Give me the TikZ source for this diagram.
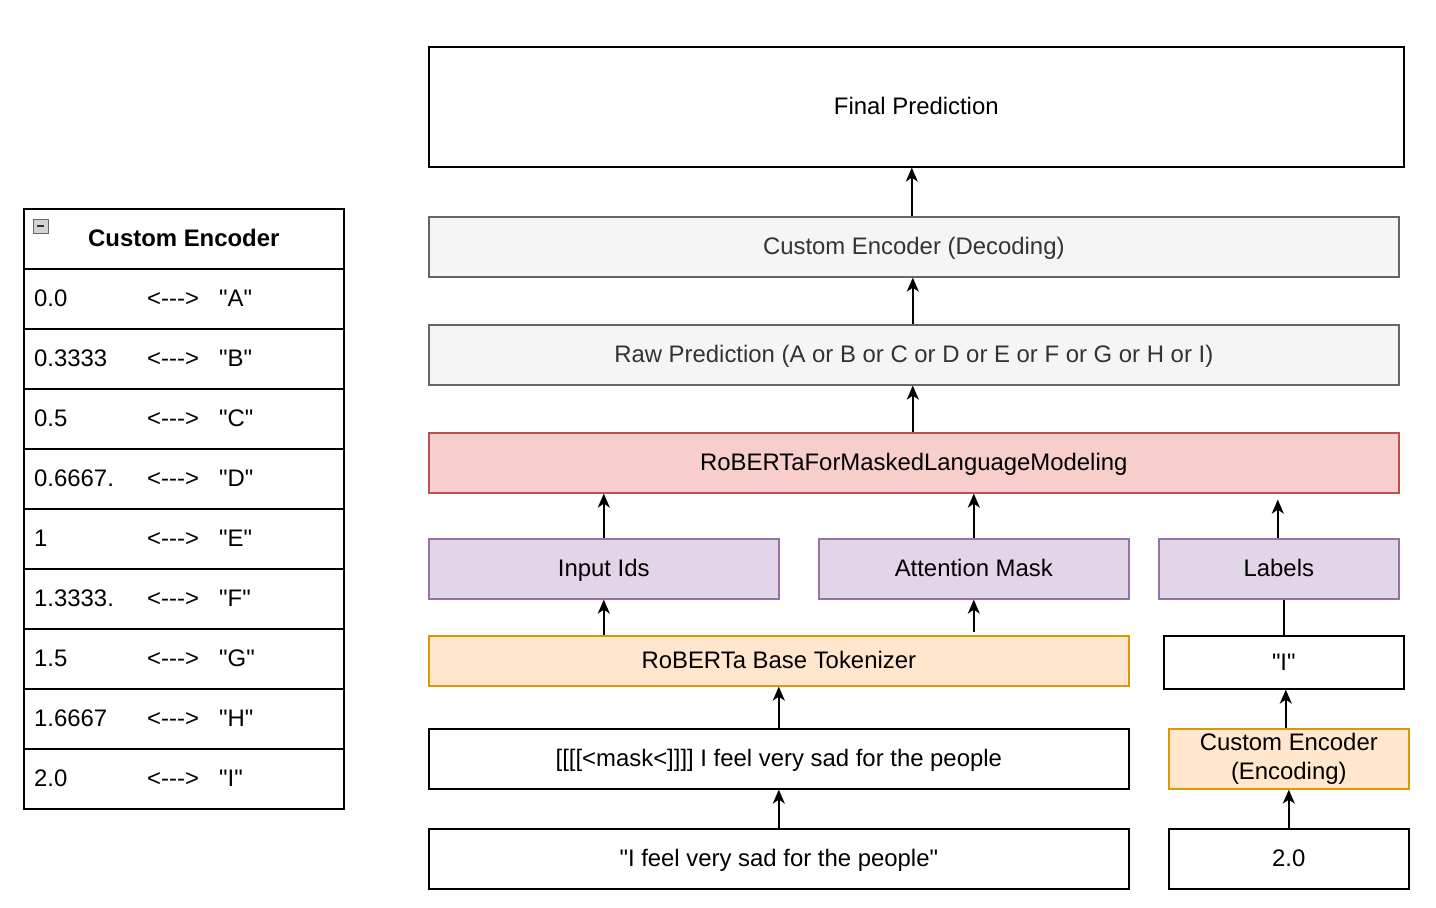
\documentclass[tikz,border=0pt]{standalone}
\usepackage{fontspec}
\setmainfont{Liberation Sans}
\newfontfamily\lib{Liberation Sans}
\usetikzlibrary{arrows.meta}
\definecolor{grayfill}{HTML}{F5F5F5}
\definecolor{graydraw}{HTML}{666666}
\definecolor{graytext}{HTML}{333333}
\definecolor{redfill}{HTML}{F8CECC}
\definecolor{reddraw}{HTML}{B85450}
\definecolor{purfill}{HTML}{E1D5E7}
\definecolor{purdraw}{HTML}{9673A6}
\definecolor{orfill}{HTML}{FFE6CC}
\definecolor{ordraw}{HTML}{D79B00}
\begin{document}
\begin{tikzpicture}[x=1pt,y=-1pt,
  box/.style={draw=black, line width=1.6pt, anchor=north west, inner sep=0pt, align=center,
    font=\lib\fontsize{23.9}{29}\selectfont},
  oneline/.style={text height=18pt, text depth=2pt},
  graybox/.style={box, oneline, draw=graydraw, fill=grayfill, text=graytext},
  redbox/.style={box, oneline, draw=reddraw, fill=redfill},
  purbox/.style={box, oneline, draw=purdraw, fill=purfill},
  orbox/.style={box, draw=ordraw, fill=orfill},
  arr/.style={line width=1.8pt, -{Stealth[length=14pt,width=12pt,inset=4pt]}},
  plainline/.style={line width=1.8pt},
  rowbox/.style={draw=black, line width=1.6pt, anchor=north west, minimum width=320pt, minimum height=60pt, inner sep=0pt},
  txt/.style={anchor=west, inner sep=0pt, text height=18pt, text depth=2pt, font=\lib\fontsize{23.9}{28}\selectfont}
]
\useasboundingbox (0,0) rectangle (1436,908);

% main flow
\node[box, oneline, minimum width=975pt, minimum height=120pt] (final) at (428,46) {Final Prediction};
\node[graybox, minimum width=970pt, minimum height=60pt] (dec) at (428,216) {Custom Encoder (Decoding)};
\node[graybox, minimum width=970pt, minimum height=60pt] (raw) at (428,324) {Raw Prediction (A or B or C or D or E or F or G or H or I)};
\node[redbox, minimum width=970pt, minimum height=60pt] (rob) at (428,432) {RoBERTaForMaskedLanguageModeling};
\node[purbox, minimum width=350pt, minimum height=60pt] (ids) at (428,538) {Input Ids};
\node[purbox, minimum width=310pt, minimum height=60pt] (att) at (818,538) {Attention Mask};
\node[purbox, minimum width=240pt, minimum height=60pt] (lab) at (1158,538) {Labels};
\node[orbox, oneline, minimum width=700pt, minimum height=50pt] (tok) at (428,635) {RoBERTa Base Tokenizer};
\node[box, oneline, minimum width=240pt, minimum height=53pt] (ival) at (1163,635) {"I"};
\node[box, oneline, minimum width=700pt, minimum height=60pt] (mask) at (428,728) {[[[[<mask<]]]] I feel very sad for the people};
\node[orbox, minimum width=240pt, minimum height=60pt] (enc) at (1168,728) {Custom Encoder\\(Encoding)};
\node[box, oneline, minimum width=700pt, minimum height=60pt] (sent) at (428,828) {"I feel very sad for the people"};
\node[box, oneline, minimum width=240pt, minimum height=60pt] (num) at (1168,828) {2.0};

% connectors
\draw[arr] ([xshift=-2pt]dec.north) -- ([xshift=-2pt]dec.north |- final.south);
\draw[arr] ([xshift=-1pt]raw.north) -- ([xshift=-1pt]raw.north |- dec.south);
\draw[arr] ([xshift=-1pt]rob.north) -- ([xshift=-1pt]rob.north |- raw.south);
\draw[arr] (ids.north) -- (ids.north |- rob.south);
\draw[arr] (att.north) -- (att.north |- rob.south);
\draw[arr] ([xshift=-1pt]lab.north) -- ([xshift=-1pt,yshift=-6pt]lab.north |- rob.south);
\draw[arr] (ids.south |- tok.north) -- (ids.south);
\draw[arr] ([yshift=3pt]att.south |- tok.north) -- (att.south);
\draw[plainline] (ival.north) -- (ival.north |- lab.south);
\draw[arr] ([xshift=-3pt]enc.north) -- ([xshift=-3pt]enc.north |- ival.south);
\draw[arr] (mask.north) -- (mask.north |- tok.south);
\draw[arr] (sent.north) -- (sent.north |- mask.south);
\draw[arr] (num.north) -- (num.north |- enc.south);

% table
\node[rowbox, text height=18pt, text depth=2pt, font=\lib\bfseries\fontsize{23.9}{28}\selectfont] (head) at (23,208) {Custom Encoder};
\draw[fill=gray!35, draw=gray!80!black, line width=0.8pt] (33,219) rectangle (48,233);
\draw[line width=1.6pt, black!80] (37,226) -- (44,226);
\foreach \v/\l [count=\i] in {0.0/A, 0.3333/B, 0.5/C, 0.6667./D, 1/E, 1.3333./F, 1.5/G, 1.6667/H, 2.0/I}{
  \node[rowbox] (row\i) at (23,{208+60*\i}) {};
  \node[txt] (val\i) at (34,{238+60*\i}) {\v};
  \node[txt] (arw\i) at (147,{238+60*\i}) {<--->};
  \node[txt] (let\i) at (219,{238+60*\i}) {"\l"};
}
\end{tikzpicture}
\end{document}
